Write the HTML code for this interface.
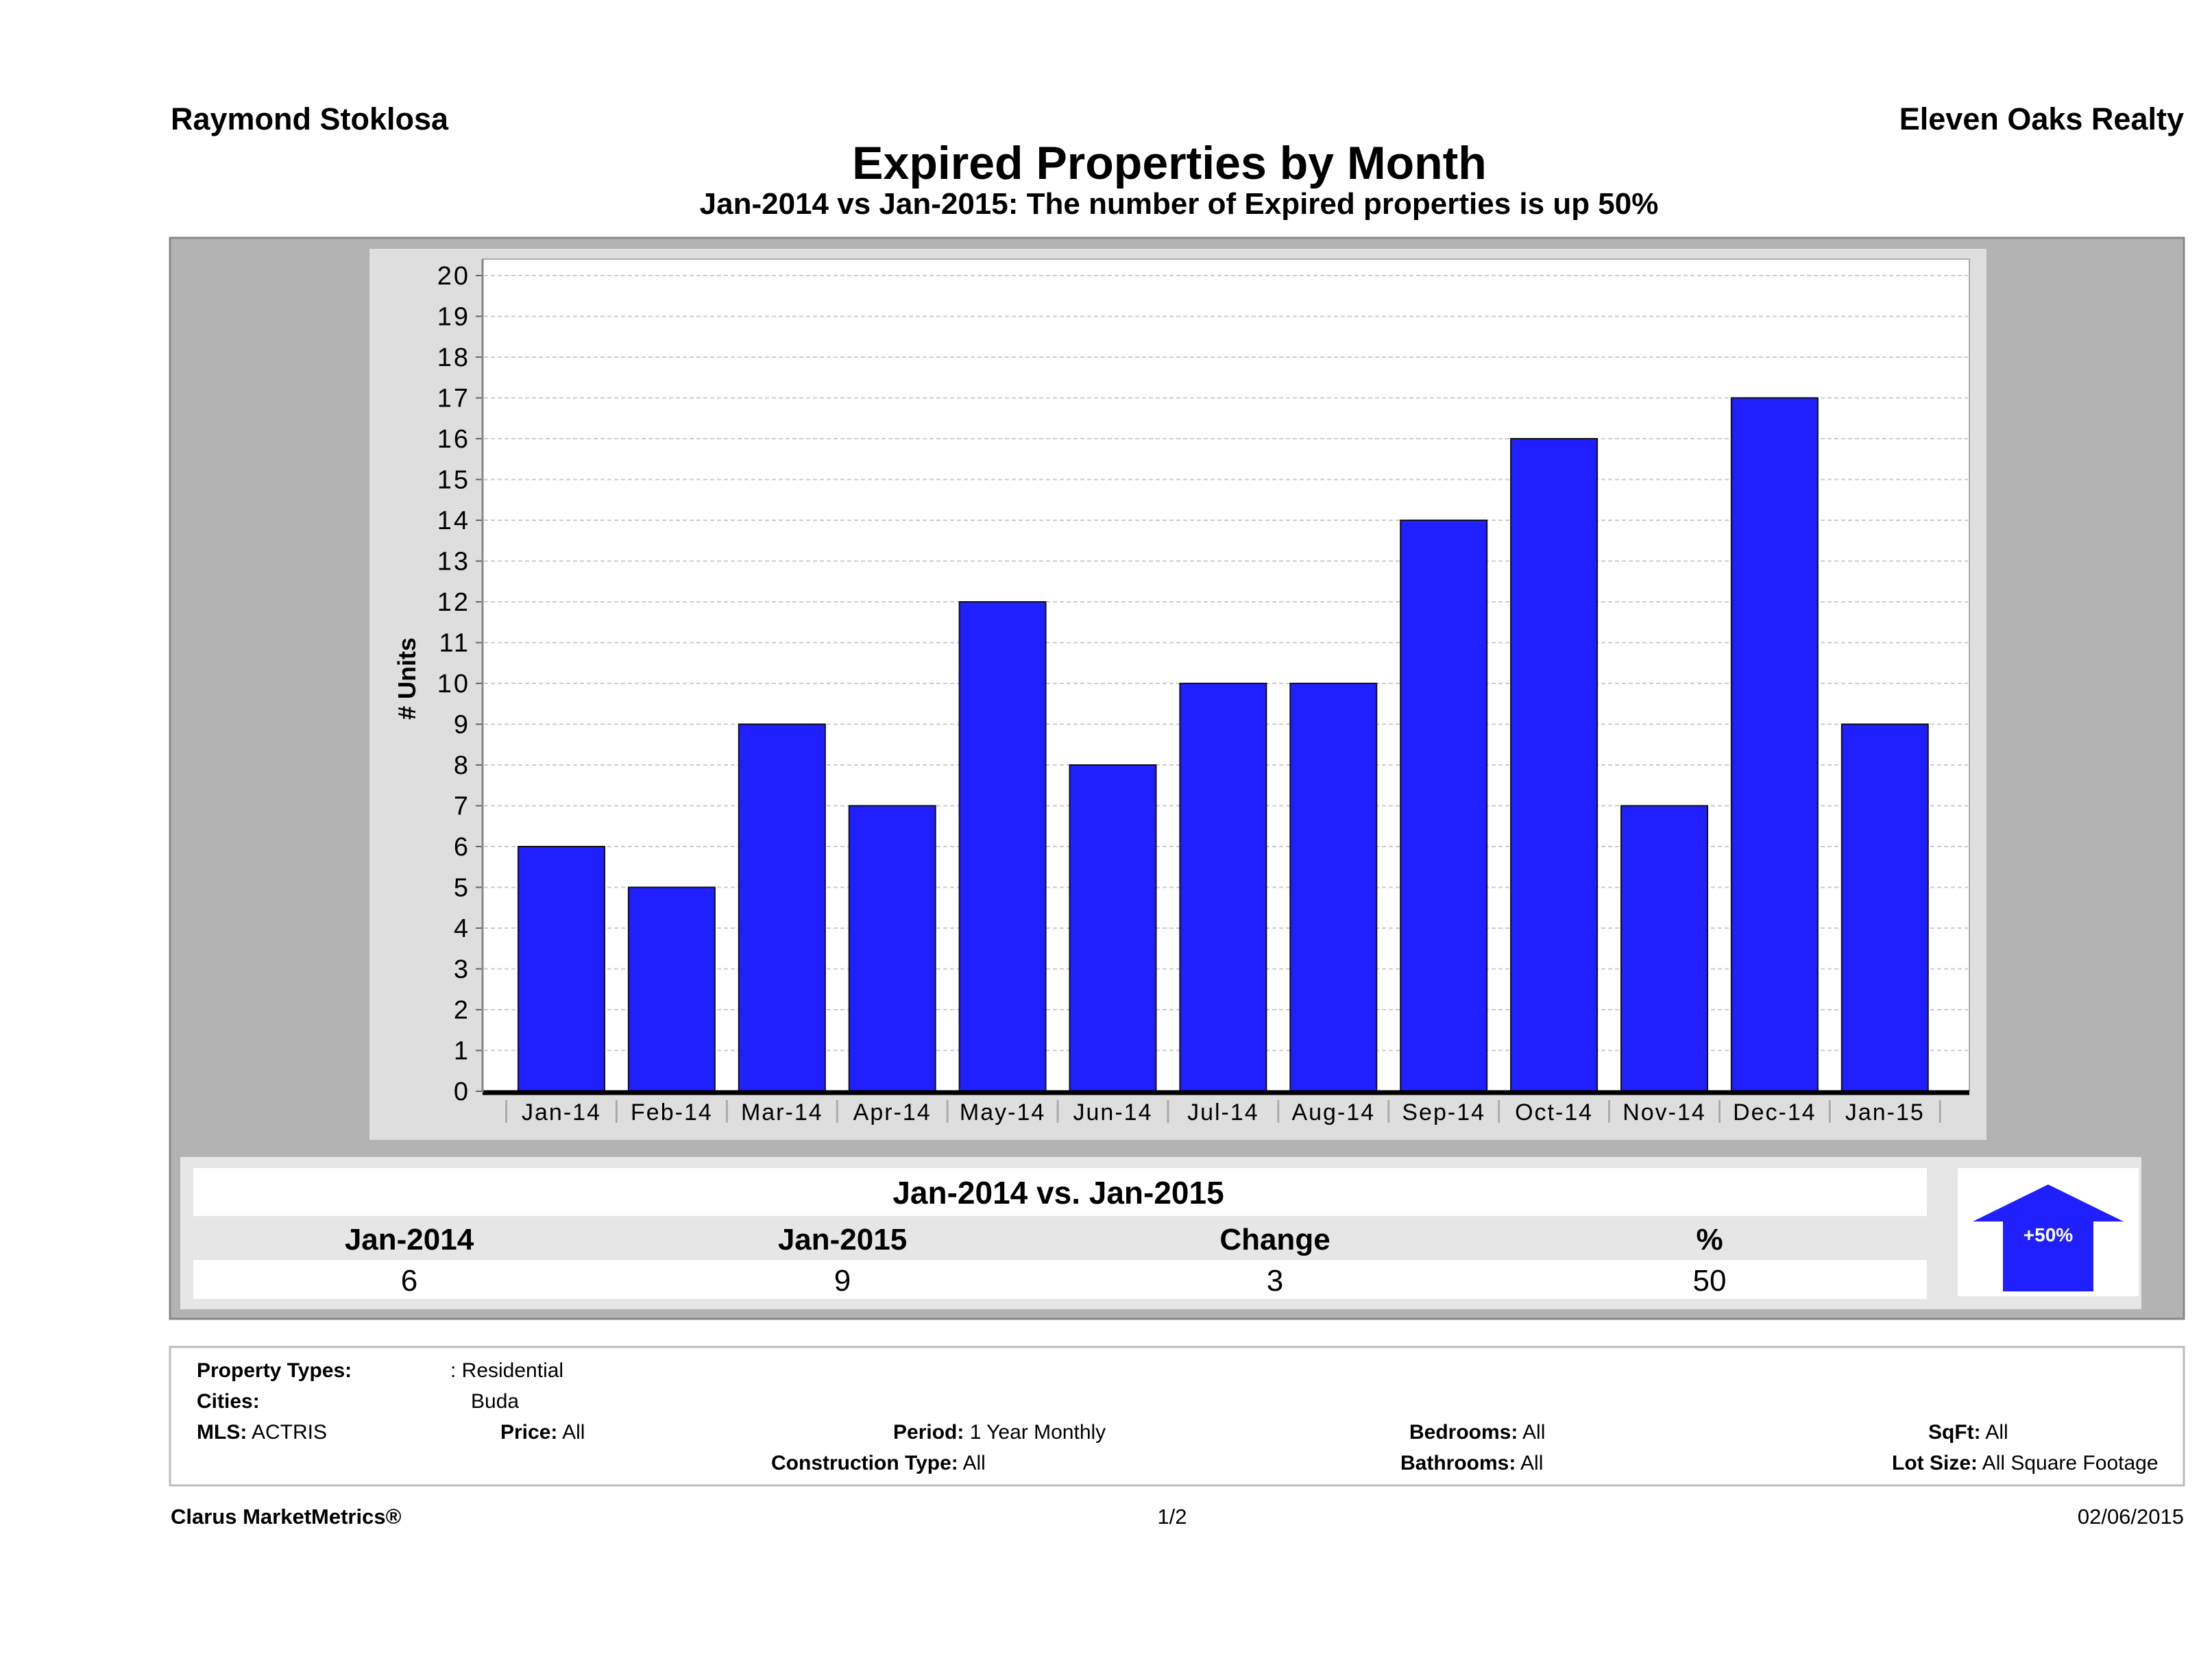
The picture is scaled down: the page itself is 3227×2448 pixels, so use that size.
<!DOCTYPE html>
<html><head><meta charset="utf-8"><style>
html,body{margin:0;padding:0;background:#fff}
svg{display:block}
text{font-family:"Liberation Sans",sans-serif}
</style></head><body>
<svg id="page" width="3227" height="2448" viewBox="0 0 3227 2448" xmlns="http://www.w3.org/2000/svg">
<text x="249" y="189" font-size="45" font-weight="bold">Raymond Stoklosa</text>
<text x="3186" y="189" font-size="45" font-weight="bold" text-anchor="end">Eleven Oaks Realty</text>
<text x="1706" y="261" font-size="68" font-weight="bold" text-anchor="middle">Expired Properties by Month</text>
<text x="1720" y="312" font-size="44" font-weight="bold" text-anchor="middle">Jan-2014 vs Jan-2015: The number of Expired  properties is up 50%</text>

<rect x="248" y="347" width="2938" height="1577" fill="#b3b3b3" stroke="#888" stroke-width="3"/>
<rect x="539" y="363" width="2359" height="1300" fill="#dedede"/>
<rect x="704" y="378" width="2169" height="1214" fill="#fff" stroke="#aaa" stroke-width="2"/>
<g id="grid"></g>
<g id="bars"></g>
<g id="yticks"></g>
<g id="xticks"></g>
<line x1="704" y1="1594" x2="2873" y2="1594" stroke="#000" stroke-width="7"/>
<line x1="704" y1="378" x2="704" y2="1594" stroke="#888" stroke-width="3"/>
<text transform="translate(606,990) rotate(-90)" font-size="36" font-weight="bold" text-anchor="middle">#&#160;Units</text>

<rect x="263" y="1688" width="2861" height="222" fill="#e6e6e6"/>
<rect x="282" y="1704" width="2529" height="70" fill="#fff"/>
<rect x="282" y="1838" width="2529" height="57" fill="#fff"/>
<text x="1544" y="1756" font-size="46" font-weight="bold" text-anchor="middle">Jan-2014 vs. Jan-2015</text>
<text x="597" y="1823" font-size="44" font-weight="bold" text-anchor="middle">Jan-2014</text>
<text x="1229" y="1823" font-size="44" font-weight="bold" text-anchor="middle">Jan-2015</text>
<text x="1860" y="1823" font-size="44" font-weight="bold" text-anchor="middle">Change</text>
<text x="2494" y="1823" font-size="44" font-weight="bold" text-anchor="middle">%</text>
<text x="597" y="1883" font-size="44" text-anchor="middle">6</text>
<text x="1229" y="1883" font-size="44" text-anchor="middle">9</text>
<text x="1860" y="1883" font-size="44" text-anchor="middle">3</text>
<text x="2494" y="1883" font-size="44" text-anchor="middle">50</text>
<rect x="2856" y="1704" width="264" height="187" fill="#fff"/>
<polygon points="2988,1728 3098,1782 3054,1782 3054,1884 2922,1884 2922,1782 2878,1782" fill="#1f1fff"/>
<text x="2988" y="1811" font-size="28" font-weight="bold" fill="#fff" text-anchor="middle">+50%</text>

<rect x="248" y="1965" width="2938" height="202" fill="#fff" stroke="#bbb" stroke-width="3"/>
<g font-size="30">
<text x="287" y="2009" font-weight="bold">Property Types:</text>
<text x="657" y="2009">: Residential</text>
<text x="287" y="2054" font-weight="bold">Cities:</text>
<text x="687" y="2054">Buda</text>
<text x="287" y="2099"><tspan font-weight="bold">MLS:</tspan>  ACTRIS</text>
<text x="730" y="2099"><tspan font-weight="bold">Price:</tspan> All</text>
<text x="1303" y="2099"><tspan font-weight="bold">Period:</tspan> 1 Year Monthly</text>
<text x="1125" y="2144"><tspan font-weight="bold">Construction Type:</tspan> All</text>
<text x="2056" y="2099"><tspan font-weight="bold">Bedrooms:</tspan> All</text>
<text x="2043" y="2144"><tspan font-weight="bold">Bathrooms:</tspan> All</text>
<text x="2813" y="2099"><tspan font-weight="bold">SqFt:</tspan>  All</text>
<text x="2760" y="2144"><tspan font-weight="bold">Lot Size:</tspan>  All Square Footage</text>
</g>
<text x="249" y="2223" font-size="31" font-weight="bold">Clarus MarketMetrics®</text>
<text x="1710" y="2223" font-size="31" text-anchor="middle">1/2</text>
<text x="3186" y="2223" font-size="31" text-anchor="end">02/06/2015</text>
</svg>
<script>
const categories = ["Jan-14","Feb-14","Mar-14","Apr-14","May-14","Jun-14","Jul-14","Aug-14","Sep-14","Oct-14","Nov-14","Dec-14","Jan-15"];
const values = [6,5,9,7,12,8,10,10,14,16,7,17,9];
const yTicks = [0,1,2,3,4,5,6,7,8,9,10,11,12,13,14,15,16,17,18,19,20];
const NS="http://www.w3.org/2000/svg";
const Y0=1592, Y20=402, YMAX=20;
function yScale(v){return Y0-(Y0-Y20)*v/YMAX;}
const X0=819, STEP=160.9, BW=126;
function xScale(i){return X0+STEP*i;}
function mk(tag,attrs,parent){const e=document.createElementNS(NS,tag);for(const k in attrs)e.setAttribute(k,attrs[k]);parent.appendChild(e);return e;}
const grid=document.getElementById('grid'),bars=document.getElementById('bars'),yt=document.getElementById('yticks'),xt=document.getElementById('xticks');
yTicks.forEach(v=>{
  const y=yScale(v);
  if(v>0){const g=mk('line',{x1:706,x2:2871,y1:y,y2:y,stroke:'#ccc','stroke-width':2,'stroke-dasharray':'6,4'},grid);
  
  }
  const tk=mk('line',{x1:694,x2:704,y1:y,y2:y,stroke:'#666','stroke-width':2},yt);
  
  
  const t=mk('text',{x:686,y:y+13,'font-size':38,'text-anchor':'end','letter-spacing':'3'},yt);
  
  
  t.textContent=v;
});
categories.forEach((c,i)=>{
  const cx=xScale(i);
  const r=mk('rect',{x:cx-BW/2,y:yScale(values[i]),width:BW,height:Y0-yScale(values[i]),fill:'#1f1fff',stroke:'#111','stroke-width':2},bars);
  
  
  const tk=mk('line',{x1:cx-STEP/2,x2:cx-STEP/2,y1:1605,y2:1638,stroke:'#aaa','stroke-width':3},xt);
  
  
  const t=mk('text',{x:cx,y:1634,'font-size':34,'text-anchor':'middle','letter-spacing':'2'},xt);
  
  
  t.textContent=c;
});
const last=mk('line',{x1:xScale(categories.length-1)+STEP/2,x2:xScale(categories.length-1)+STEP/2,y1:1605,y2:1638,stroke:'#aaa','stroke-width':3},xt);


</script>
</body></html>
